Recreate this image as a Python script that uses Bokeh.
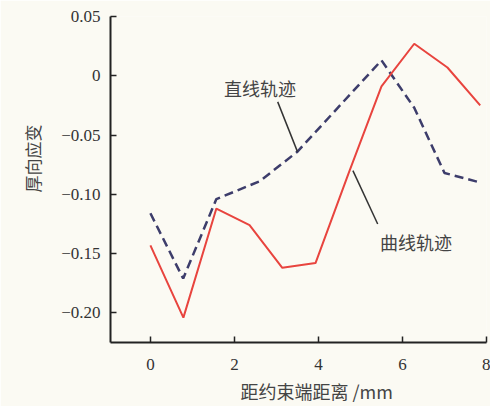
from bokeh.plotting import figure
from bokeh.models import FixedTicker, Label, Range1d, Title
from bokeh.embed import file_html
from bokeh.resources import INLINE

# ---- data ----
curve_x = [0, 0.785, 1.57, 2.36, 3.14, 3.93, 4.71, 5.5, 6.28, 7.07, 7.85]
curve_y = [-0.143, -0.204, -0.112, -0.126, -0.162, -0.158, -0.083, -0.009, 0.027, 0.007, -0.025]
straight_x = [0, 0.78, 1.57, 2.6, 3.5, 5.5, 6.28, 7.0, 7.85]
straight_y = [-0.116, -0.171, -0.104, -0.089, -0.064, 0.013, -0.027, -0.082, -0.090]

x_ticks = [0, 2, 4, 6, 8]
y_ticks = [-0.20, -0.15, -0.10, -0.05, 0, 0.05]
y_tick_labels = ["\u22120.20", "\u22120.15", "\u22120.10", "\u22120.05", "0", "0.05"]

straight_name = "直线轨迹"
curve_name = "曲线轨迹"
straight_label_pos = (2.61, -0.010)
curve_label_pos = (6.32, -0.140)
straight_leader_x = [3.03, 3.5]
straight_leader_y = [-0.022, -0.064]
curve_leader_x = [4.82, 5.41]
curve_leader_y = [-0.080, -0.125]

x_title = "距约束端距离 /mm"
y_title = "厚向应变"

BG = "#fbfaf3"
SERIF = "Liberation Serif"
CJK = "Noto Sans CJK SC"

p = figure(width=490, height=406, output_backend="svg", toolbar_location=None,
           x_range=Range1d(-0.95, 8.0), y_range=Range1d(-0.225, 0.05),
           min_border_left=110, min_border_right=4, min_border_top=16, min_border_bottom=64)
p.background_fill_color = BG
p.border_fill_color = BG
p.outline_line_color = None
p.grid.visible = False

p.line(straight_x, straight_y, line_color="#3d3d6b", line_width=2.5, line_dash="9 5")
p.line(curve_x, curve_y, line_color="#e8443e", line_width=2)

p.line(straight_leader_x, straight_leader_y, line_color="#333333", line_width=1.5)
p.line(curve_leader_x, curve_leader_y, line_color="#333333", line_width=1.5)

for txt, (lx, ly) in [(straight_name, straight_label_pos), (curve_name, curve_label_pos)]:
    p.add_layout(Label(x=lx, y=ly, text=txt, text_font=CJK, text_font_size="18px",
                       text_color="#444444", text_align="center", text_baseline="middle"))

p.add_layout(Title(text=x_title, align="left", offset=130, standoff=6, text_font=CJK,
                   text_font_size="18px", text_font_style="normal", text_color="#444444"),
             "below")
p.add_layout(Title(text=y_title, align="left", offset=150, standoff=28, text_font=CJK,
                   text_font_size="17px", text_font_style="normal", text_color="#444444"),
             "left")

for ax in (p.xaxis[0], p.yaxis[0]):
    ax.axis_line_color = "#222222"
    ax.axis_line_width = 2
    ax.major_tick_in = 6
    ax.major_tick_out = 0
    ax.major_tick_line_color = "#222222"
    ax.major_tick_line_width = 1.5
    ax.minor_tick_line_color = None
    ax.major_label_text_font = SERIF
    ax.major_label_text_font_size = "17px"
    ax.major_label_text_color = "#333333"

p.xaxis.ticker = FixedTicker(ticks=x_ticks)
p.yaxis.ticker = FixedTicker(ticks=y_ticks)
p.yaxis.major_label_overrides = {t: s for t, s in zip(y_ticks, y_tick_labels)}
p.xaxis.major_label_standoff = 16
p.yaxis.major_label_standoff = 10

open("out.html", "w").write(file_html(p, INLINE))
